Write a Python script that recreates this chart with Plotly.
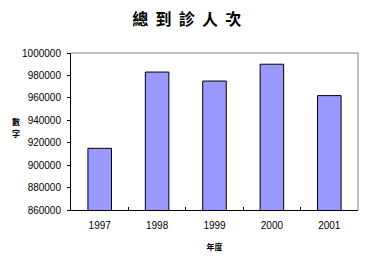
import plotly.graph_objects as go

years = ["1997", "1998", "1999", "2000", "2001"]
visits = [915000, 983000, 975000, 990000, 962000]
y_ticks = [860000, 880000, 900000, 920000, 940000, 960000, 980000, 1000000]

fig = go.Figure()
fig.add_trace(go.Bar(
    x=years, y=visits,
    marker=dict(color="#9999FF", line=dict(color="black", width=1)),
    width=0.41,
))

sp = "\u00a0\u00a0"
title_text = sp.join(list("總到診人次"))

fig.update_layout(
    width=366, height=261,
    margin=dict(l=71, r=8, t=53, b=51),
    paper_bgcolor="white", plot_bgcolor="white",
    showlegend=False,
    font=dict(family="Liberation Sans, Arial", size=10, color="black"),
    title=dict(text="<b>" + title_text + "</b>", x=0.51, xanchor="center", y=0.925, yanchor="middle",
               font=dict(family="Noto Sans CJK TC", size=16, color="black")),
    xaxis=dict(showline=True, linecolor="black", linewidth=1, ticks="inside", ticklen=3,
               tickson="boundaries", tickcolor="black", showgrid=False, ticklabelstandoff=6,
               title=dict(text="<b>年度</b>", font=dict(family="Noto Sans CJK TC", size=8), standoff=14)),
    yaxis=dict(range=[860000, 1000000], tickvals=y_ticks, ticktext=[str(v) for v in y_ticks],
               showline=True, linecolor="black", linewidth=1, ticks="outside", ticklen=3,
               tickcolor="black", showgrid=False, ticklabelstandoff=4),
)
# grey top and right frame
fig.add_shape(type="line", xref="paper", yref="paper", x0=0, x1=1, y0=1, y1=1,
              line=dict(color="#808080", width=1))
fig.add_shape(type="line", xref="paper", yref="paper", x0=1, x1=1, y0=0, y1=1,
              line=dict(color="#808080", width=1))
for ch, yy in (("數", 0.565), ("字", 0.49)):
    fig.add_annotation(text="<b>" + ch + "</b>", xref="paper", yref="paper", x=-0.19, y=yy,
                       showarrow=False, font=dict(family="Noto Sans CJK TC", size=8),
                       xanchor="center", yanchor="middle")

fig.write_html("out.html")
